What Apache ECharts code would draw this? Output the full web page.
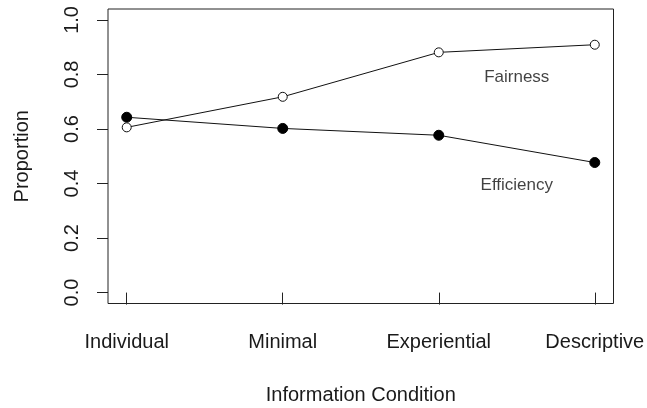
<!DOCTYPE html>
<html>
<head>
<meta charset="utf-8">
<script src="https://cdn.jsdelivr.net/npm/echarts@6/dist/echarts.min.js"></script>
<style>
html,body{margin:0;padding:0;background:#fff;}
#c{width:647px;height:408px;}
</style>
</head>
<body>
<div id="c"></div>
<script>
var categories = ['Individual', 'Minimal', 'Experiential', 'Descriptive'];
var fairness = [0.606, 0.718, 0.881, 0.909];
var efficiency = [0.643, 0.602, 0.577, 0.477];
var yTicks = [0, 0.2, 0.4, 0.6, 0.8, 1.0];
var annotations = [
  {text: 'Fairness', x: 3.5, y: 0.79},
  {text: 'Efficiency', x: 3.5, y: 0.393}
];

var xPos = categories.map(function (c, i) { return i + 1; });
function pairs(vals) { return vals.map(function (v, i) { return [i + 1, v]; }); }

var font = 'Liberation Sans, Arial, sans-serif';
var chart = echarts.init(document.getElementById('c'), null, {renderer: 'canvas'});
chart.setOption({
  animation: false,
  backgroundColor: '#fff',
  grid: {left: 108, right: 33.5, top: 9, bottom: 104.5, containLabel: false, outerBoundsMode: 'none',
    show: true, borderColor: '#222', borderWidth: 1, backgroundColor: 'transparent'},
  xAxis: {
    type: 'value', min: 0.88, max: 4.12,
    name: 'Information Condition', nameLocation: 'middle', nameGap: 82,
    nameTextStyle: {fontFamily: font, fontSize: 20, color: '#1a1a1a'},
    axisLine: {show: false},
    splitLine: {show: false},
    axisTick: {show: true, inside: false, length: 12, customValues: xPos, lineStyle: {color: '#222', width: 1}},
    axisLabel: {show: true, customValues: xPos, margin: 29, fontFamily: font, fontSize: 20, color: '#1a1a1a',
      formatter: function (v) { return categories[Math.round(v) - 1] || ''; }}
  },
  yAxis: {
    type: 'value', min: -0.04, max: 1.04,
    name: 'Proportion', nameLocation: 'middle', nameGap: 76, nameRotate: 90,
    nameTextStyle: {fontFamily: font, fontSize: 20, color: '#1a1a1a'},
    axisLine: {show: false},
    splitLine: {show: false},
    axisTick: {show: true, inside: false, length: 11, customValues: yTicks, lineStyle: {color: '#222', width: 1}},
    axisLabel: {show: true, customValues: yTicks, rotate: 90, margin: 26, fontFamily: font, fontSize: 20, color: '#1a1a1a',
      formatter: function (v) { return v.toFixed(1); }}
  },
  series: [
    {
      name: 'Fairness', type: 'line', data: pairs(fairness),
      symbol: 'circle', symbolSize: 9, showAllSymbol: true,
      lineStyle: {color: '#111', width: 1},
      itemStyle: {color: '#fff', borderColor: '#111', borderWidth: 1},
      z: 3
    },
    {
      name: 'Efficiency', type: 'line', data: pairs(efficiency),
      symbol: 'circle', symbolSize: 10, showAllSymbol: true,
      lineStyle: {color: '#111', width: 1},
      itemStyle: {color: '#000', borderColor: '#000', borderWidth: 1},
      z: 2
    },
    {
      name: 'labels', type: 'scatter', symbolSize: 0,
      itemStyle: {color: 'rgba(0,0,0,0)'},
      data: annotations.map(function (a) { return {value: [a.x, a.y], name: a.text}; }),
      label: {show: true, position: 'inside', formatter: '{b}', fontFamily: font, fontSize: 17, color: '#111'},
      silent: true
    }
  ]
});
</script>
</body>
</html>
